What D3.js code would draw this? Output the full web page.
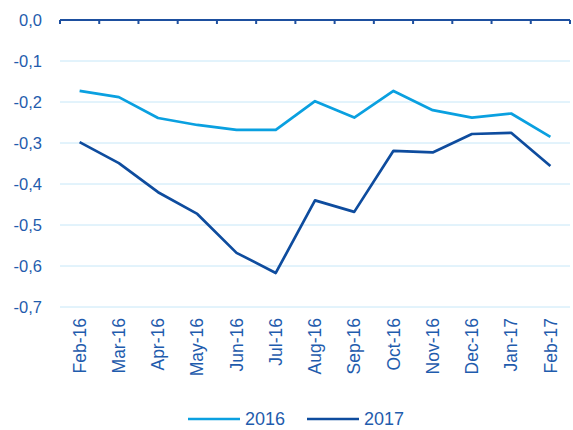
<!DOCTYPE html>
<html>
<head>
<meta charset="utf-8">
<script src="https://cdn.jsdelivr.net/npm/d3@7"></script>
<style>
  body { margin: 0; background: #fff; }
  svg text { font-family: "Liberation Sans", Arial, sans-serif; fill: #1f5cad; }
</style>
</head>
<body>
<svg id="chart" width="573" height="430"></svg>
<script>
// months on the x axis
const months = ["Feb-16", "Mar-16", "Apr-16", "May-16", "Jun-16", "Jul-16", "Aug-16",
  "Sep-16", "Oct-16", "Nov-16", "Dec-16", "Jan-17", "Feb-17"];
const values2016 = [-0.173, -0.188, -0.239, -0.256, -0.268, -0.268, -0.198,
  -0.238, -0.173, -0.22, -0.238, -0.228, -0.285];
const values2017 = [-0.298, -0.349, -0.42, -0.473, -0.568, -0.617, -0.44,
  -0.468, -0.319, -0.323, -0.278, -0.275, -0.356];
const yTicks = [0, -0.1, -0.2, -0.3, -0.4, -0.5, -0.6, -0.7];
const seriesNames = ["2016", "2017"];
const colors = ["#0aa0e0", "#0e4c9e"];

const svg = d3.select("#chart");
const plotLeft = 60, plotRight = 570, plotTop = 20, plotBottom = 307;

const x = d3.scaleBand().domain(months).range([plotLeft, plotRight]);
const y = d3.scaleLinear().domain([0, -0.7]).range([plotTop, plotBottom]);
const fmt = d => d3.format(".1f")(d).replace(".", ",").replace("−", "-");

// gridlines
svg.append("g")
  .selectAll("line")
  .data(yTicks.filter(d => d !== 0))
  .join("line")
  .attr("x1", plotLeft).attr("x2", plotRight)
  .attr("y1", d => y(d)).attr("y2", d => y(d))
  .attr("stroke", "#c6e7f8").attr("stroke-width", 1);

// y labels
svg.append("g")
  .selectAll("text")
  .data(yTicks)
  .join("text")
  .attr("x", 42)
  .attr("y", d => y(d))
  .attr("dy", "0.35em")
  .attr("text-anchor", "end")
  .style("font-size", "16.5px")
  .text(d => fmt(d));

// top axis at zero with downward ticks
const xAxis = svg.append("g")
  .attr("transform", `translate(0,${y(0)})`);
xAxis.append("line")
  .attr("x1", plotLeft).attr("x2", plotRight)
  .attr("stroke", "#1d4f9f").attr("stroke-width", 2);
xAxis.selectAll(".bandtick")
  .data(months.map(m => x(m)).concat([plotRight]))
  .join("line")
  .attr("class", "bandtick")
  .attr("x1", d => d).attr("x2", d => d)
  .attr("y1", 0).attr("y2", 4)
  .attr("stroke", "#1d4f9f").attr("stroke-width", 2);

// rotated month labels
svg.append("g")
  .selectAll("text")
  .data(months)
  .join("text")
  .attr("transform", d => `translate(${x(d) + x.bandwidth() / 2},${plotBottom + 11}) rotate(-90)`)
  .attr("dy", "0.35em")
  .attr("text-anchor", "end")
  .style("font-size", "17.5px")
  .text(d => d);

// lines
const line = d3.line()
  .x((d, i) => x(months[i]) + x.bandwidth() / 2)
  .y(d => y(d));

[values2016, values2017].forEach((vals, i) => {
  svg.append("path")
    .datum(vals)
    .attr("d", line)
    .attr("fill", "none")
    .attr("stroke", colors[i])
    .attr("stroke-width", 2.7)
    .attr("stroke-linejoin", "round");
});

// legend
const legend = svg.append("g").attr("transform", "translate(188,419)");
seriesNames.forEach((name, i) => {
  const g = legend.append("g").attr("transform", `translate(${i * 119},0)`);
  g.append("line").attr("x1", 0).attr("x2", 52)
    .attr("stroke", colors[i]).attr("stroke-width", 2.7);
  g.append("text").attr("x", 57).attr("dy", "0.35em")
    .style("font-size", "18px").text(name);
});
</script>
</body>
</html>
